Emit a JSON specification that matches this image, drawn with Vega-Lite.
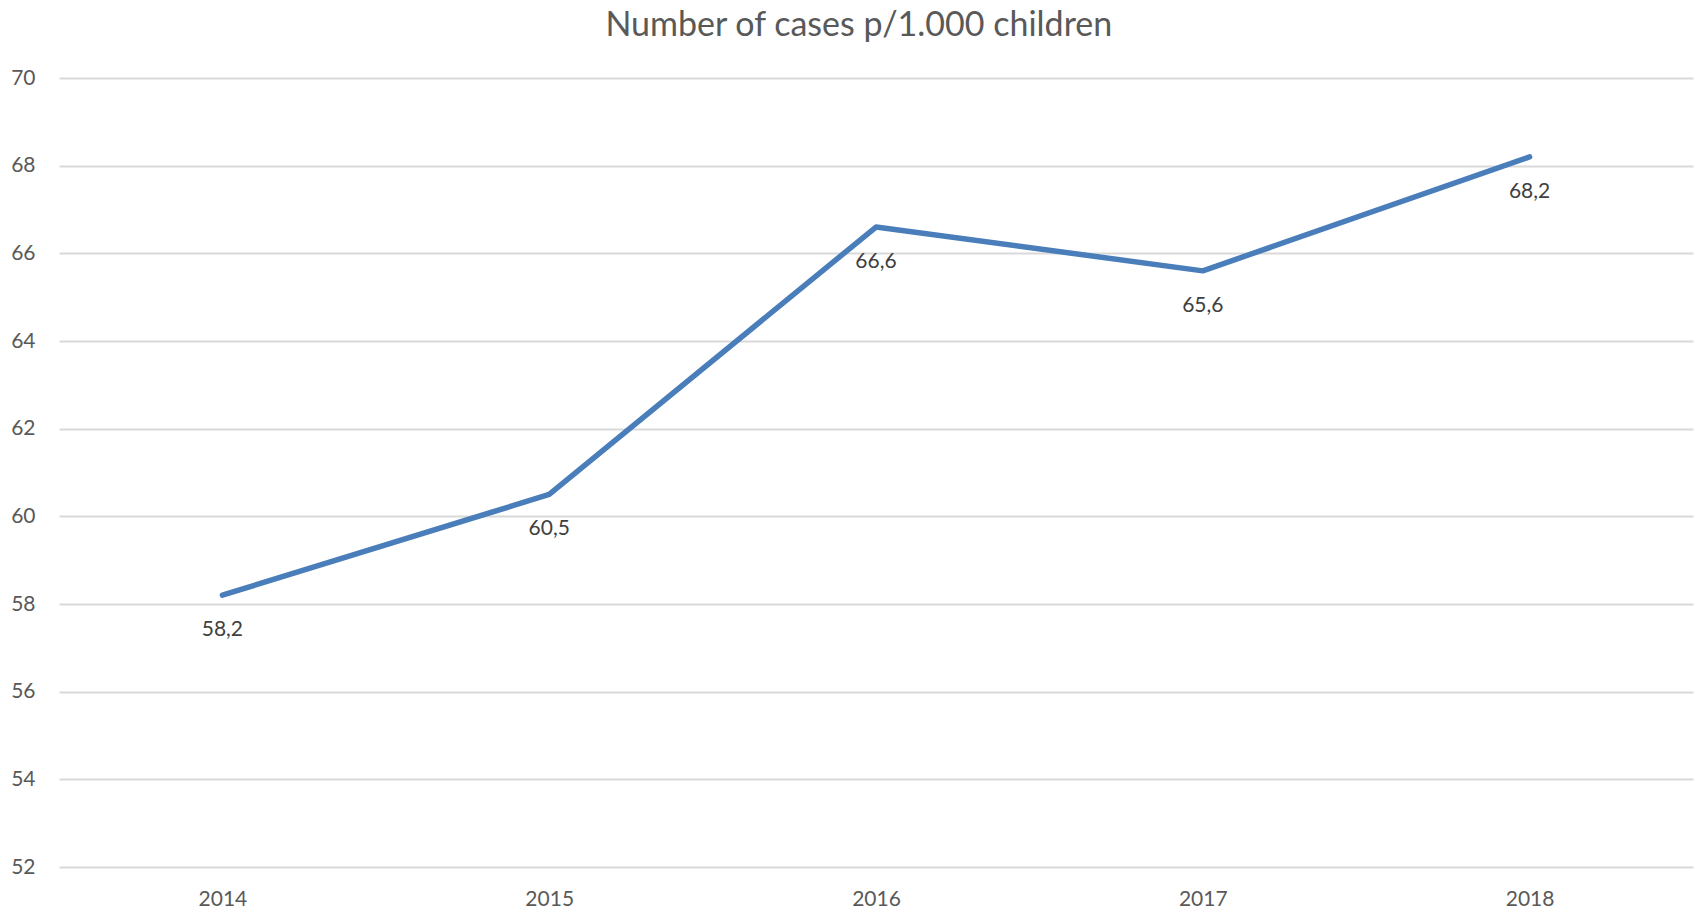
{
  "$schema": "https://vega.github.io/schema/vega-lite/v6.json",
  "autosize": "none",
  "width": 1634,
  "height": 789,
  "padding": {"left": 59, "top": 78, "right": 9, "bottom": 45},
  "background": "white",
  "config": {
    "font": "Lato",
    "view": {"stroke": null},
    "locale": {"number": {"decimal": ",", "thousands": ".", "grouping": [3], "currency": ["", "€"]}}
  },
  "title": {
    "text": "Number of cases p/1.000 children",
    "font": "Lato",
    "fontSize": 34,
    "fontWeight": "normal",
    "color": "#595959",
    "anchor": "middle",
    "frame": "bounds",
    "offset": 24,
    "dx": 7
  },
  "data": {
    "values": [
      {"year": "2014", "cases": 58.2},
      {"year": "2015", "cases": 60.5},
      {"year": "2016", "cases": 66.6},
      {"year": "2017", "cases": 65.6},
      {"year": "2018", "cases": 68.2}
    ]
  },
  "encoding": {
    "x": {
      "field": "year",
      "type": "ordinal",
      "scale": {"type": "point", "padding": 0.5},
      "axis": {
        "title": null,
        "domain": false,
        "ticks": false,
        "labelAngle": 0,
        "labelFont": "Lato",
        "labelFontSize": 21,
        "labelColor": "#595959",
        "labelPadding": 21,
        "grid": false
      }
    },
    "y": {
      "field": "cases",
      "type": "quantitative",
      "scale": {"domain": [52, 70], "nice": false, "zero": false},
      "axis": {
        "title": null,
        "domain": false,
        "ticks": false,
        "values": [52, 54, 56, 58, 60, 62, 64, 66, 68, 70],
        "labelFont": "Lato",
        "labelFontSize": 21,
        "labelColor": "#595959",
        "labelPadding": 24,
        "gridColor": "#d9d9d9",
        "gridWidth": 2
      }
    }
  },
  "layer": [
    {
      "mark": {"type": "line", "color": "#4a7ebb", "strokeWidth": 5.5, "strokeCap": "round", "strokeJoin": "round"}
    },
    {
      "mark": {"type": "text", "dy": 35, "baseline": "middle", "align": "center", "font": "Lato", "fontSize": 21, "color": "#404040"},
      "encoding": {
        "text": {"field": "cases", "type": "quantitative", "format": ".1f"}
      }
    }
  ]
}
